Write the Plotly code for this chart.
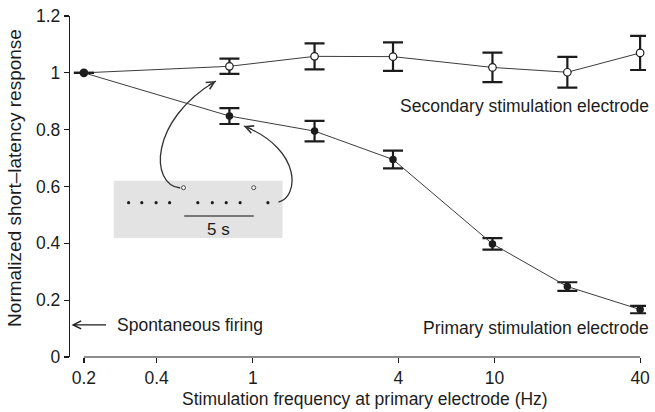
import math
import plotly.graph_objects as go

# ---------------- data ----------------
freq = [0.2, 0.8, 1.8, 3.8, 9.8, 20, 40]
primary = [1.0, 0.848, 0.795, 0.695, 0.398, 0.248, 0.167]
primary_err = [None, 0.028, 0.036, 0.031, 0.020, 0.015, 0.013]
secondary = [1.0, 1.023, 1.058, 1.057, 1.019, 1.002, 1.070]
secondary_err = [None, 0.027, 0.046, 0.050, 0.052, 0.054, 0.060]
spontaneous_level = 0.113
x_ticks = [0.2, 0.4, 1, 4, 10, 40]
x_tick_labels = ["0.2", "0.4", "1", "4", "10", "40"]
y_ticks = [0, 0.2, 0.4, 0.6, 0.8, 1.0, 1.2]
y_tick_labels = ["0", "0.2", "0.4", "0.6", "0.8", "1", "1.2"]

# ---------------- layout geometry ----------------
W, H = 655, 412
ML, MR, MT, MB = 70, 5, 16, 55
PW, PH = W - ML - MR, H - MT - MB
PX_PER_DEC = 243.4
xr0 = math.log10(x_ticks[0]) - 14 / PX_PER_DEC
xr1 = xr0 + PW / PX_PER_DEC

INK = "#1c1c1c"
LINE = "#3c3c3c"
FONT = "Liberation Sans, Arial, Helvetica, sans-serif"


def px(x):
    return (x - ML) / PW


def py(y):
    return (H - MB - y) / PH


def fx(v):
    return (math.log10(v) - xr0) / (xr1 - xr0)


fig = go.Figure()

fig.add_trace(go.Scatter(
    x=freq, y=secondary, mode="lines+markers",
    line=dict(color=LINE, width=1),
    marker=dict(size=7.5, color="white", line=dict(color=INK, width=1.2)),
    error_y=dict(type="data", array=secondary_err, thickness=2.2, width=10, color=INK),
    showlegend=False, hoverinfo="skip"))

fig.add_trace(go.Scatter(
    x=freq, y=primary, mode="lines+markers",
    line=dict(color=LINE, width=1),
    marker=dict(size=7.5, color=INK),
    error_y=dict(type="data", array=primary_err, thickness=2.2, width=10, color=INK),
    showlegend=False, hoverinfo="skip"))

shapes = []
# detached x axis line from first to last tick
shapes.append(dict(type="line", xref="paper", yref="paper",
                   x0=fx(x_ticks[0]), x1=fx(x_ticks[-1]), y0=0, y1=0,
                   line=dict(color=INK, width=1.2)))

# inset: spike-train illustration
shapes.append(dict(type="rect", xref="paper", yref="paper",
                   x0=px(114), x1=px(284), y0=py(238), y1=py(180.7),
                   fillcolor="#e3e3e3", line=dict(width=0), layer="below"))
dots_x = [129, 142.3, 156.7, 170.3, 198.7, 213.3, 227.3, 241.3, 269.3]
for dx in dots_x:
    shapes.append(dict(type="circle", xref="paper", yref="paper",
                       x0=px(dx - 1.6), x1=px(dx + 1.6), y0=py(202.7 + 1.6), y1=py(202.7 - 1.6),
                       fillcolor=INK, line=dict(width=0)))
for ox in [184.3, 255]:
    shapes.append(dict(type="circle", xref="paper", yref="paper",
                       x0=px(ox - 2), x1=px(ox + 2), y0=py(187.7 + 2), y1=py(187.7 - 2),
                       fillcolor="white", line=dict(color="#444", width=1)))
shapes.append(dict(type="line", xref="paper", yref="paper",
                   x0=px(185), x1=px(255), y0=py(216), y1=py(216),
                   line=dict(color="#777", width=2)))


def path_px(pts):
    (x0, y0), (c1x, c1y), (c2x, c2y), (x1, y1) = pts
    return "M {} {} C {} {}, {} {}, {} {}".format(
        px(x0), py(y0), px(c1x), py(c1y), px(c2x), py(c2y), px(x1), py(y1))


shapes.append(dict(type="path", xref="paper", yref="paper",
                   path=path_px([(181, 188), (150, 185), (150, 120), (217, 81)]),
                   line=dict(color="#333", width=1.3)))
shapes.append(dict(type="path", xref="paper", yref="paper",
                   path=path_px([(280, 202), (300, 198), (305, 150), (245, 126)]),
                   line=dict(color="#333", width=1.3)))

annotations = []
tf = dict(family=FONT, size=17.5, color=INK)
annotations.append(dict(text="Normalized short\u2013latency response", xref="paper", yref="paper",
                        x=px(13.5), y=py(178), textangle=-90, showarrow=False,
                        xanchor="center", yanchor="middle", font=dict(family=FONT, size=19, color=INK)))
annotations.append(dict(text="Stimulation frequency at primary electrode (Hz)", xref="paper", yref="paper",
                        x=px(367.5), y=py(399), showarrow=False, xanchor="center", yanchor="middle", font=tf))
annotations.append(dict(text="Secondary stimulation electrode", xref="paper", yref="paper",
                        x=px(655), y=py(106), showarrow=False, xanchor="right", yanchor="middle", font=tf))
annotations.append(dict(text="Primary stimulation electrode", xref="paper", yref="paper",
                        x=px(655), y=py(328), showarrow=False, xanchor="right", yanchor="middle", font=tf))
annotations.append(dict(text="Spontaneous firing", xref="paper", yref="y",
                        x=px(115), y=spontaneous_level, showarrow=False, xanchor="left", yanchor="middle", font=tf))
annotations.append(dict(text="", xref="paper", yref="y", x=px(71.5), y=spontaneous_level,
                        showarrow=True, ax=36, ay=0, arrowhead=5, arrowsize=1.3, arrowwidth=1.2,
                        arrowcolor=INK))
annotations.append(dict(text="5 s", xref="paper", yref="paper", x=px(220), y=py(229),
                        showarrow=False, xanchor="center", yanchor="middle",
                        font=dict(family=FONT, size=17, color=INK)))
# arrowheads of curved arrows
annotations.append(dict(text="", xref="paper", yref="paper", x=px(217), y=py(81),
                        showarrow=True, ax=-8.6, ay=5, arrowhead=5, arrowsize=1.2, arrowwidth=1.3,
                        arrowcolor="#333"))
annotations.append(dict(text="", xref="paper", yref="paper", x=px(245), y=py(126),
                        showarrow=True, ax=9.3, ay=3.7, arrowhead=5, arrowsize=1.2, arrowwidth=1.3,
                        arrowcolor="#333"))

fig.update_layout(
    width=W, height=H,
    margin=dict(l=ML, r=MR, t=MT, b=MB, pad=0),
    paper_bgcolor="white", plot_bgcolor="white",
    font=dict(family=FONT, size=17.5, color=INK),
    shapes=shapes, annotations=annotations,
    xaxis=dict(type="log", range=[xr0, xr1], tickvals=x_ticks, ticktext=x_tick_labels,
               ticks="outside", ticklen=5, tickwidth=1.2, tickcolor=INK,
               showline=False, showgrid=False, zeroline=False,
               tickfont=dict(family=FONT, size=17.5, color=INK)),
    yaxis=dict(range=[0, 1.2], tickvals=y_ticks, ticktext=y_tick_labels,
               ticks="outside", ticklen=5, tickwidth=1.2, tickcolor=INK,
               showline=True, linecolor=INK, linewidth=1.2,
               showgrid=False, zeroline=False,
               tickfont=dict(family=FONT, size=17.5, color=INK)),
)

fig.write_html("out.html",
               config={"displayModeBar": False, "staticPlot": True},
               post_script="document.body.style.margin='0';document.body.style.overflow='hidden';")
